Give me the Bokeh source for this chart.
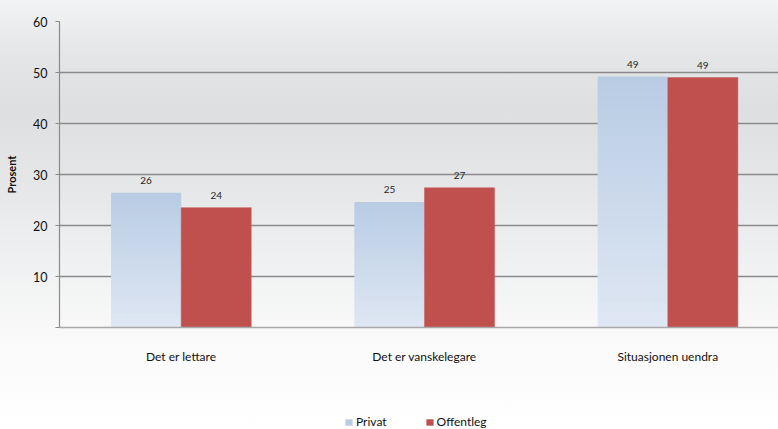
from bokeh.plotting import figure
from bokeh.layouts import column
from bokeh.models import Legend, LegendItem, Range1d, FixedTicker
from bokeh.core.properties import value
from bokeh.embed import file_html
from bokeh.resources import INLINE

categories = ["Det er lettare", "Det er vanskelegare", "Situasjonen uendra"]
privat = [26.4, 24.6, 49.2]
offentleg = [23.5, 27.4, 49.0]
privat_labels = ["26", "25", "49"]
offentleg_labels = ["24", "27", "49"]
series_names = ["Privat", "Offentleg"]
y_ticks = [0, 10, 20, 30, 40, 50, 60]

FONT = "Lato"
BAR_W = 0.288
PRIV_COL = "#b8cce4"
OFF_COL = "#c0504d"
centers = [i + 0.5 for i in range(len(categories))]

p = figure(width=778, height=399, output_backend="svg", toolbar_location=None,
           x_range=Range1d(0, 2.955), y_range=Range1d(0, 60),
           min_border_left=59, min_border_right=0, min_border_top=21, min_border_bottom=72)
p.border_fill_alpha = 0
p.background_fill_alpha = 0
p.outline_line_color = None

# Privat bars with vertical gradient (darker at top)
N = 30
top_c = (0xb8, 0xcc, 0xe4)
bot_c = (0xdf, 0xe7, 0xf3)
xs, bots, tops, cols = [], [], [], []
for c, v in zip(centers, privat):
    for k in range(N):
        t = (k + 0.5) / N
        rgb = tuple(int(round(bot_c[j] + (top_c[j] - bot_c[j]) * t)) for j in range(3))
        xs.append(c - BAR_W / 2)
        bots.append(v * k / N)
        tops.append(min(v, v * (k + 1) / N + 0.3))
        cols.append("#%02x%02x%02x" % rgb)
p.vbar(x=xs, bottom=bots, top=tops, width=BAR_W, fill_color=cols, line_color=None)
p.vbar(x=[c + BAR_W / 2 for c in centers], top=offentleg, width=BAR_W,
       fill_color=OFF_COL, line_color="#c55a57", line_width=0.5)

# data labels
p.text(x=[c - BAR_W / 2 for c in centers], y=privat, text=privat_labels,
       text_font=value(FONT), text_font_size="10px", text_color="#262626",
       text_align="center", text_baseline="bottom", y_offset=-9)
p.text(x=[c + BAR_W / 2 for c in centers], y=offentleg, text=offentleg_labels,
       text_font=value(FONT), text_font_size="10px", text_color="#262626",
       text_align="center", text_baseline="bottom", y_offset=-9)

# axes
p.xgrid.grid_line_color = None
p.ygrid.ticker = FixedTicker(ticks=y_ticks[1:])
p.ygrid.grid_line_color = "#8a8a8a"
p.ygrid.grid_line_width = 1.3

xa = p.xaxis[0]
xa.ticker = FixedTicker(ticks=centers)
xa.major_label_overrides = {c: lab for c, lab in zip(centers, categories)}
xa.major_tick_line_color = None
xa.minor_tick_line_color = None
xa.axis_line_color = "#a8a8a8"
xa.axis_line_width = 1.5
xa.major_label_standoff = 15
xa.major_label_text_font = FONT
xa.major_label_text_font_size = "12px"
xa.major_label_text_color = "#111111"

ya = p.yaxis[0]
ya.ticker = FixedTicker(ticks=y_ticks)
ya.major_label_overrides = {0: ""}
ya.major_tick_in = 0
ya.major_tick_out = 4
ya.minor_tick_line_color = None
ya.major_tick_line_color = "#8a8a8a"
ya.axis_line_color = "#8a8a8a"
ya.axis_line_width = 1.2
ya.major_label_standoff = 8
ya.major_label_text_font = FONT
ya.major_label_text_font_size = "12.5px"
ya.major_label_text_color = "#111111"
ya.axis_label = "Prosent"
ya.axis_label_text_font = FONT
ya.axis_label_text_font_style = "bold"
ya.axis_label_text_font_size = "11px"
ya.axis_label_text_color = "#111111"
ya.axis_label_standoff = 12

# legend strip (proxy glyphs placed outside the visible range)
q = figure(width=778, height=30, output_backend="svg", toolbar_location=None,
           x_range=Range1d(0, 1), y_range=Range1d(0, 1),
           x_axis_location=None, y_axis_location=None, min_border=0)
q.border_fill_alpha = 0
q.background_fill_alpha = 0
q.outline_line_color = None
q.grid.grid_line_color = None
r_priv = q.vbar(x=[10], top=[1], width=0.1, fill_color=PRIV_COL, line_color=None)
r_off = q.vbar(x=[10], top=[1], width=0.1, fill_color=OFF_COL, line_color=None)
legend = Legend(items=[LegendItem(label=series_names[0], renderers=[r_priv]),
                       LegendItem(label=series_names[1], renderers=[r_off])],
                orientation="horizontal", location=(285, 0),
                background_fill_alpha=0, border_line_color=None,
                glyph_width=9, glyph_height=8, label_standoff=3, spacing=38,
                padding=0, margin=0,
                label_text_font=FONT, label_text_font_size="12px", label_text_color="#111111")
q.add_layout(legend, "center")

layout = column(p, q, spacing=0)
layout.styles = {"background": "linear-gradient(to bottom, #f2f3f4 0%, #e4e6e8 12%, #dddfe1 25%, #e3e5e7 40%, #eff0f1 60%, #fafafa 80%, #ffffff 100%)"}

open("out.html", "w").write(file_html(layout, INLINE))
